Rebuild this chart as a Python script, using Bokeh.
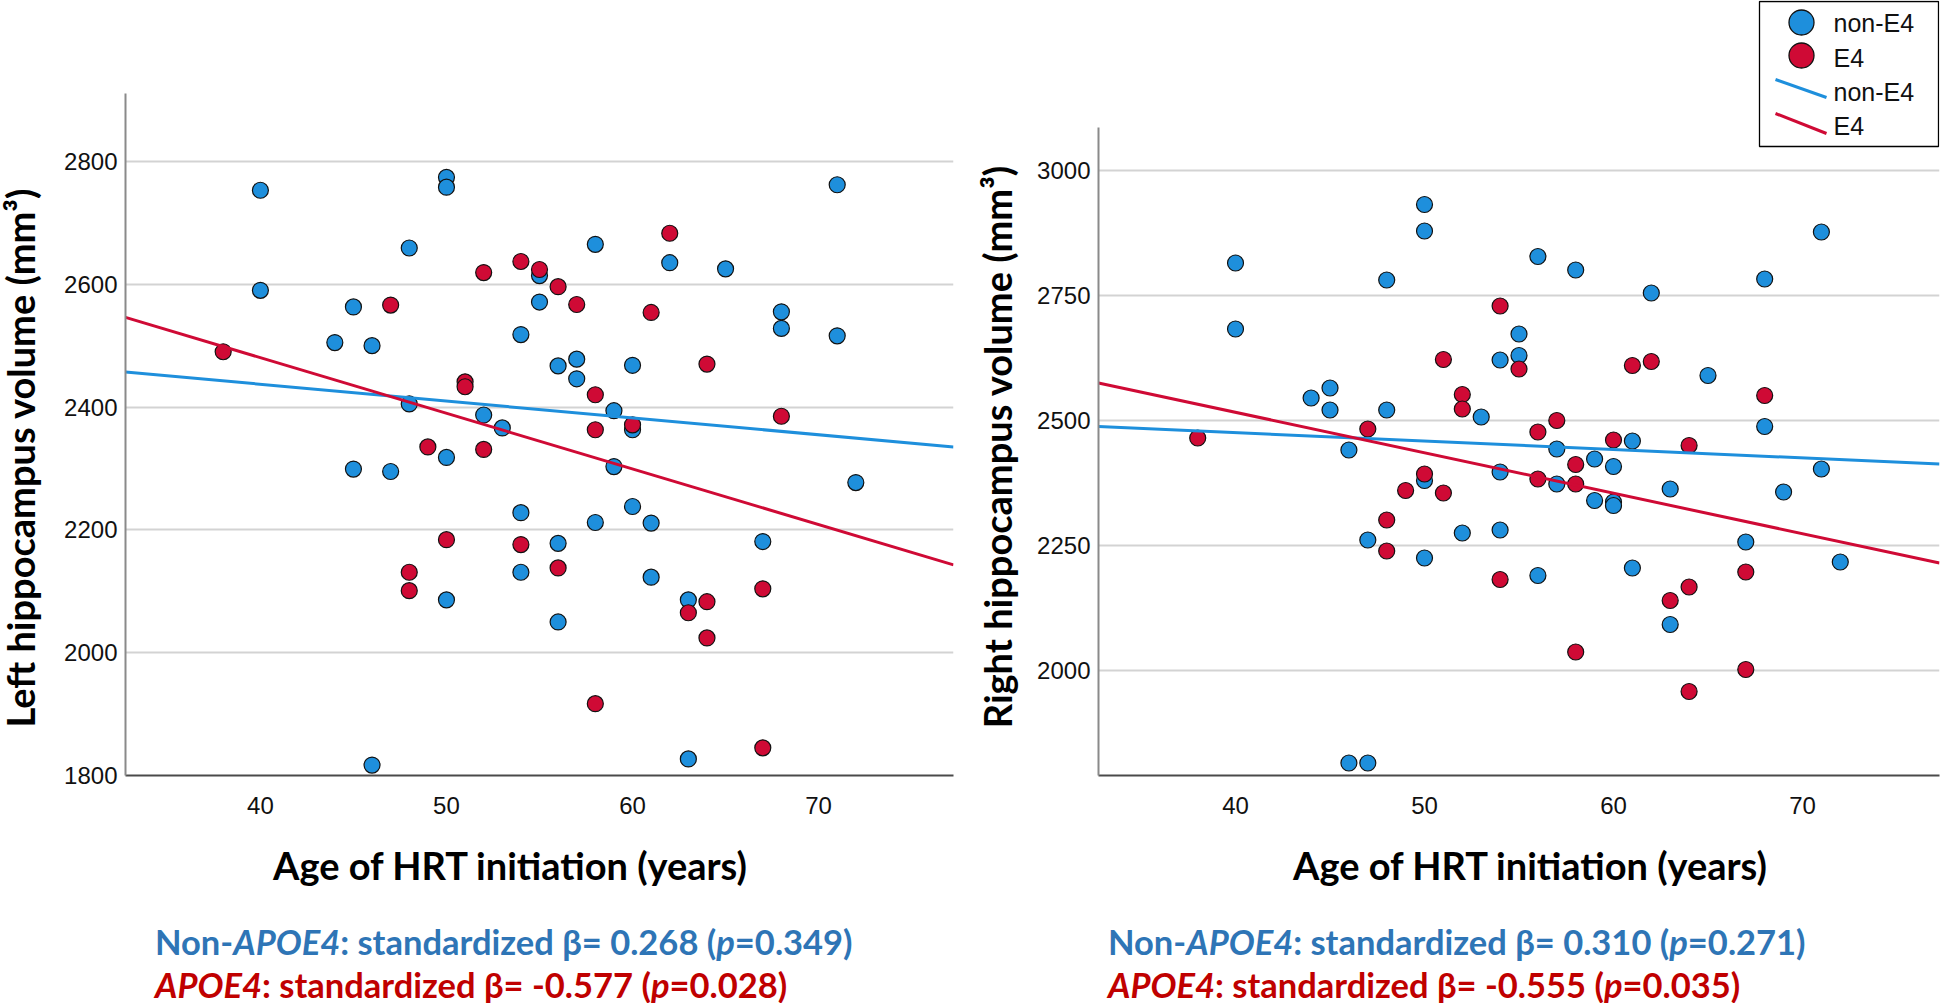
from bokeh.plotting import figure
from bokeh.models import Range1d, FixedTicker, Div
from bokeh.layouts import row, column
from bokeh.embed import file_html
from bokeh.resources import INLINE
from bokeh.core.properties import value

# ---------------- data ----------------
x_ticks = [40, 50, 60, 70]
left_y_ticks = [1800, 2000, 2200, 2400, 2600, 2800]
right_y_ticks = [2000, 2250, 2500, 2750, 3000]

# Left hippocampus
left_non_age = [40, 40, 44, 45, 45, 46, 46, 47, 48, 48, 50, 50, 50, 50, 52, 53, 54, 54, 54,
                55, 55, 56, 56, 56, 57, 57, 58, 58, 59, 59, 60, 60, 60, 61, 61, 62, 63, 63,
                65, 67, 68, 68, 71, 71, 72]
left_non_vol = [2753, 2590, 2505, 2563, 2299, 2500, 1817, 2295, 2659, 2405, 2774, 2758, 2318,
                2086, 2387, 2366, 2518, 2228, 2131, 2614, 2571, 2467, 2178, 2050, 2478, 2446,
                2665, 2212, 2394, 2303, 2468, 2363, 2238, 2211, 2123, 2635, 2086, 1827, 2625,
                2181, 2555, 2528, 2762, 2516, 2277]
left_e4_age = [38, 47, 48, 48, 49, 50, 51, 51, 52, 52, 54, 54, 55, 56, 56, 57, 58, 58, 58,
               60, 61, 62, 63, 64, 64, 64, 67, 67, 68]
left_e4_vol = [2490, 2566, 2131, 2101, 2335, 2184, 2441, 2433, 2619, 2331, 2637, 2176, 2624,
               2596, 2138, 2567, 2420, 2363, 1917, 2371, 2554, 2683, 2065, 2470, 2083, 2024,
               2104, 1845, 2385]

# Right hippocampus
right_non_age = [40, 40, 44, 45, 45, 46, 46, 47, 47, 48, 48, 50, 50, 50, 50, 52, 53, 54, 54,
                 54, 55, 55, 56, 56, 57, 57, 58, 59, 59, 60, 60, 60, 61, 61, 62, 63, 63, 65,
                 67, 68, 68, 69, 71, 71, 72]
right_non_vol = [2815, 2683, 2545, 2565, 2521, 2441, 1815, 2261, 1815, 2781, 2521, 2932, 2879,
                 2380, 2225, 2275, 2507, 2621, 2397, 2281, 2673, 2630, 2828, 2190, 2443, 2373,
                 2801, 2423, 2340, 2408, 2337, 2330, 2459, 2205, 2755, 2363, 2092, 2590, 2257,
                 2783, 2488, 2357, 2877, 2403, 2217]
right_e4_age = [38, 47, 48, 48, 49, 50, 51, 51, 52, 52, 54, 54, 55, 56, 56, 57, 58, 58, 58,
                60, 61, 62, 63, 64, 64, 64, 67, 67, 68]
right_e4_vol = [2465, 2483, 2301, 2239, 2360, 2393, 2622, 2355, 2552, 2523, 2729, 2182, 2603,
                2477, 2383, 2500, 2412, 2373, 2037, 2461, 2610, 2618, 2140, 2450, 2167, 1958,
                2197, 2002, 2550]

# fitted regression lines (values at the left / right end of the x range)
fit_x = [32.75, 77.25]
left_fit_non = [2457, 2335]
left_fit_e4 = [2546, 2143]
right_fit_non = [2488, 2413]
right_fit_e4 = [2575, 2215]

# drawn part of the y axes, and full frame ranges
left_axis_bounds = (1800, 2910)
left_y_range = (1800, 3062)
right_axis_bounds = (1790, 3086)
right_y_range = (1790, 3340)

left_stats = {"non": ("0.268", "0.349"), "e4": ("-0.577", "0.028")}
right_stats = {"non": ("0.310", "0.271"), "e4": ("-0.555", "0.035")}

y_titles = ["Left hippocampus volume (mm³)", "Right hippocampus volume (mm³)"]
x_title = "Age of HRT initiation (years)"
legend_labels = ["non-E4", "E4", "non-E4", "E4"]

# ---------------- style ----------------
BLUE = "#1e8fdc"
RED = "#cf0a35"
TXT_BLUE = "#2e75b6"
TXT_RED = "#c00000"
TICK_FONT = "Liberation Sans"
FIG_H = 835
BOTTOM_BORDER = 60
TDIV_W = 50


def style_axes(p, yticks, bounds):
    p.outline_line_color = None
    p.background_fill_color = "white"
    p.border_fill_color = "white"
    p.xgrid.visible = False
    p.ygrid.ticker = FixedTicker(ticks=yticks)
    p.ygrid.grid_line_color = "#d3d3d3"
    p.ygrid.grid_line_width = 2
    p.xaxis.ticker = FixedTicker(ticks=x_ticks)
    p.yaxis.ticker = FixedTicker(ticks=yticks)
    p.yaxis.bounds = bounds
    for ax in (p.xaxis[0], p.yaxis[0]):
        ax.major_tick_line_color = None
        ax.minor_tick_line_color = None
        ax.major_tick_out = 0
        ax.major_tick_in = 0
        ax.major_label_text_font = TICK_FONT
        ax.major_label_text_font_size = "24px"
        ax.major_label_text_color = "#111111"
        ax.axis_line_width = 2
    p.xaxis.axis_line_color = "#4a4a4a"
    p.yaxis.axis_line_color = "#8a8a8a"
    p.xaxis.major_label_standoff = 21
    p.yaxis.major_label_standoff = 8


def add_data(p, non_age, non_vol, e4_age, e4_vol, fit_non, fit_e4):
    p.scatter(non_age, non_vol, size=16, fill_color=BLUE, line_color="#111111", line_width=1.2)
    p.scatter(e4_age, e4_vol, size=16, fill_color=RED, line_color="#111111", line_width=1.2)
    p.line(fit_x, fit_non, line_color=BLUE, line_width=3)
    p.line(fit_x, fit_e4, line_color=RED, line_width=3)


def y_title_div(text, cx, cy):
    html = (f'<div style="position:relative;width:{TDIV_W}px;height:{FIG_H}px;">'
            f'<div style="position:absolute;left:{cx - 380}px;top:{cy - 18}px;width:760px;'
            f'height:36px;line-height:36px;text-align:center;white-space:nowrap;'
            f'font-family:Lato;font-weight:bold;font-size:38px;color:black;'
            f'transform:rotate(-90deg);transform-origin:50% 50%;">{text}</div></div>')
    return Div(text=html, width=TDIV_W, height=FIG_H, margin=0)


def bottom_div(st, width, title_cx, stats_left):
    b, pv = st["non"]
    b2, pv2 = st["e4"]
    h = 1003 - FIG_H
    common = "position:absolute;white-space:nowrap;font-family:Lato;font-weight:bold;"
    html = (f'<div style="position:relative;width:{width}px;height:{h}px;">'
            f'<div style="{common}left:0px;top:11px;width:{2 * title_cx}px;text-align:center;'
            f'font-size:38px;line-height:38px;color:black;">{x_title}</div>'
            f'<div style="{common}left:{stats_left}px;top:90px;font-size:34.5px;'
            f'line-height:34px;color:{TXT_BLUE};">Non-<i>APOE4</i>: standardized β= {b} '
            f'(<i>p</i>={pv})</div>'
            f'<div style="{common}left:{stats_left}px;top:133px;font-size:34.5px;'
            f'line-height:34px;color:{TXT_RED};"><i>APOE4</i>: standardized β= {b2} '
            f'(<i>p</i>={pv2})</div></div>')
    return Div(text=html, width=width, height=h, margin=0)


# ---------------- left panel ----------------
pl = figure(width=975 - TDIV_W, height=FIG_H, x_range=Range1d(fit_x[0], fit_x[1]),
            y_range=Range1d(*left_y_range), output_backend="svg", toolbar_location=None,
            min_border_left=125 - TDIV_W, min_border_right=22, min_border_top=0,
            min_border_bottom=BOTTOM_BORDER)
style_axes(pl, left_y_ticks, left_axis_bounds)
add_data(pl, left_non_age, left_non_vol, left_e4_age, left_e4_vol, left_fit_non, left_fit_e4)

# ---------------- right panel ----------------
pr = figure(width=1945 - 975 - TDIV_W, height=FIG_H, x_range=Range1d(fit_x[0], fit_x[1]),
            y_range=Range1d(*right_y_range), output_backend="svg", toolbar_location=None,
            min_border_left=1098 - 975 - TDIV_W, min_border_right=6, min_border_top=0,
            min_border_bottom=BOTTOM_BORDER)
style_axes(pr, right_y_ticks, right_axis_bounds)
add_data(pr, right_non_age, right_non_vol, right_e4_age, right_e4_vol, right_fit_non, right_fit_e4)

# legend drawn in frame pixel space (x from frame left, y from frame bottom)
pr.extra_x_ranges = {"px": Range1d(0, 841)}
pr.extra_y_ranges = {"py": Range1d(0, FIG_H - BOTTOM_BORDER)}
pr.quad(left=[661], right=[840], top=[774], bottom=[629], fill_color="white",
        line_color="black", line_width=1.3, x_range_name="px", y_range_name="py")
pr.scatter([703, 703], [753, 720], size=25, fill_color=[BLUE, RED], line_color="#111111",
           line_width=1.3, x_range_name="px", y_range_name="py")
pr.segment(x0=[677, 677], y0=[696, 662], x1=[728, 728], y1=[678, 642],
           line_color=[BLUE, RED], line_width=3, x_range_name="px", y_range_name="py")
pr.text(x=[735, 735, 735, 735], y=[753, 718, 684, 650], text=legend_labels,
        text_font=value(TICK_FONT), text_font_size="25px", text_baseline="middle",
        text_color="#111111", x_range_name="px", y_range_name="py")

# ---------------- titles and statistics (HTML text) ----------------
ydl = y_title_div(y_titles[0], 20, 458)
ydr = y_title_div(y_titles[1], 22, 447)
bl = bottom_div(left_stats, 975, 510, 155)
br = bottom_div(right_stats, 970, 555, 133)

layout = column(row(ydl, pl, ydr, pr, spacing=0), row(bl, br, spacing=0), spacing=0)
open("out.html", "w").write(file_html(layout, INLINE))
